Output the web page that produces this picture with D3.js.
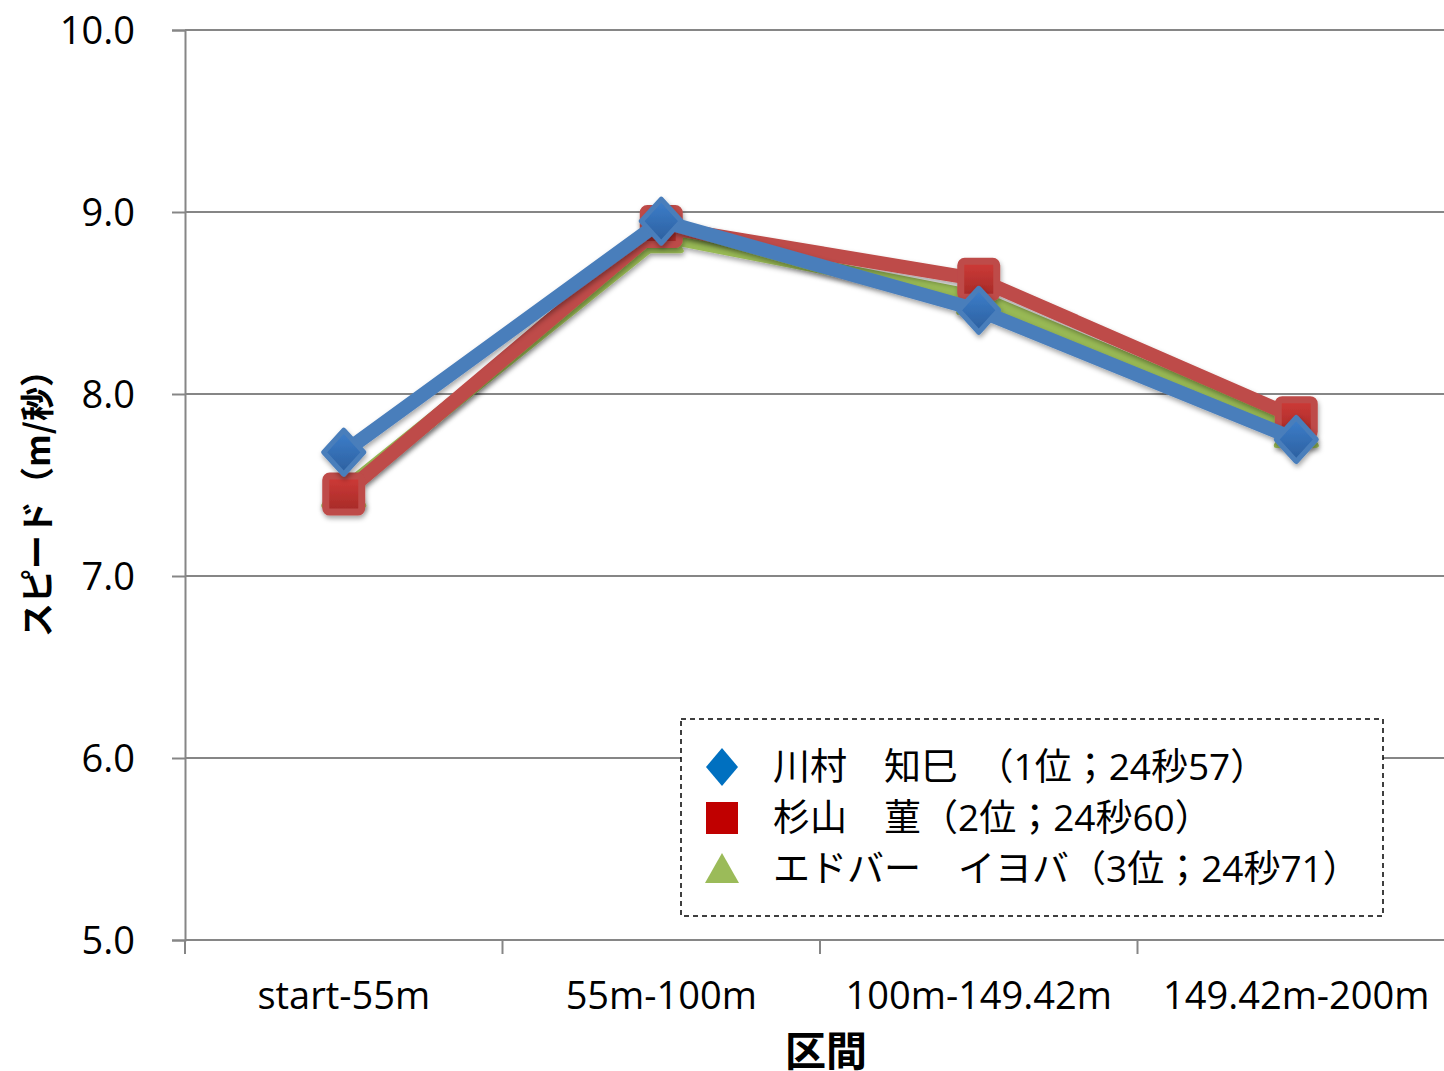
<!DOCTYPE html>
<html>
<head>
<meta charset="utf-8">
<script src="https://cdn.jsdelivr.net/npm/d3@7"></script>
<style>
  body { margin: 0; background: #fff; }
  svg { display: block; }
  text { font-family: "Open Sans", "Noto Sans CJK JP", sans-serif; fill: #000; }
  .jp { font-family: "Noto Sans CJK JP", sans-serif; }
</style>
</head>
<body>
<div id="chart"></div>
<script>
// data
var categories = ["start-55m", "55m-100m", "100m-149.42m", "149.42m-200m"];
var kawamura = [7.68, 8.95, 8.46, 7.75];
var sugiyama = [7.45, 8.92, 8.63, 7.87];
var edobar = [7.47, 8.87, 8.53, 7.80];
var seriesNames = ["川村　知巳　（1位；24秒57）", "杉山　菫（2位；24秒60）", "エドバー　イヨバ（3位；24秒71）"];
var yTicks = [5, 6, 7, 8, 9, 10];

var W = 1444, H = 1071;
var margin = { top: 30, left: 185, bottom: 131 };
var plotH = H - margin.top - margin.bottom;

var svg = d3.select("#chart").append("svg")
    .attr("width", W)
    .attr("height", H);

var defs = svg.append("defs");
var shadow = defs.append("filter").attr("id", "shadow")
    .attr("x", "-20%").attr("y", "-20%").attr("width", "140%").attr("height", "140%");
shadow.append("feDropShadow")
    .attr("dx", 1).attr("dy", 3).attr("stdDeviation", 2.5)
    .attr("flood-color", "#000").attr("flood-opacity", 0.35);

function grad(id, c1, c2) {
    var g = defs.append("linearGradient").attr("id", id)
        .attr("x1", 0).attr("y1", 0).attr("x2", 0).attr("y2", 1);
    g.append("stop").attr("offset", "0%").attr("stop-color", c1);
    g.append("stop").attr("offset", "100%").attr("stop-color", c2);
}
grad("gBlue", "#3d7fcc", "#2c5f9e");
grad("gRed", "#cf3b38", "#a52a27");
grad("gGreen", "#a8c868", "#7f9c3e");

// scales
var x = d3.scaleBand()
    .domain(categories)
    .range([margin.left, margin.left + 317.5 * categories.length]);
var y = d3.scaleLinear()
    .domain([5, 10])
    .range([margin.top + plotH, margin.top]);

// gridlines + y axis
var yAxis = d3.axisLeft(y)
    .tickValues(yTicks)
    .tickFormat(d3.format(".1f"))
    .tickSize(13)
    .tickPadding(37);
var gY = svg.append("g")
    .attr("transform", "translate(" + margin.left + ",0)")
    .call(yAxis);
gY.select(".domain").attr("stroke", "#868686").attr("stroke-width", 2);
gY.selectAll(".tick line").attr("stroke", "#868686").attr("stroke-width", 2);
gY.selectAll(".tick text").style("font-size", "38px").attr("dy", "0.36em");

svg.append("g").selectAll("line")
    .data(yTicks)
    .enter().append("line")
    .attr("x1", margin.left).attr("x2", W)
    .attr("y1", function (d) { return y(d); })
    .attr("y2", function (d) { return y(d); })
    .attr("stroke", "#868686")
    .attr("stroke-width", 2);

// x axis
var gX = svg.append("g")
    .attr("transform", "translate(0," + y(5) + ")");
gX.selectAll("line")
    .data(d3.range(categories.length + 1))
    .enter().append("line")
    .attr("x1", function (i) { return x.range()[0] + i * x.step(); })
    .attr("x2", function (i) { return x.range()[0] + i * x.step(); })
    .attr("y1", 0).attr("y2", 14)
    .attr("stroke", "#868686").attr("stroke-width", 2);
gX.selectAll("text")
    .data(categories)
    .enter().append("text")
    .attr("x", function (d) { return x(d) + x.bandwidth() / 2; })
    .attr("y", 69)
    .attr("text-anchor", "middle")
    .style("font-size", "38px")
    .text(function (d) { return d; });

// axis titles
svg.append("text")
    .attr("class", "jp")
    .attr("transform", "translate(50,495) rotate(-90)")
    .attr("text-anchor", "middle")
    .style("font-size", "34px")
    .style("font-weight", "bold")
    .text("スピード（m/秒）");

svg.append("text")
    .attr("class", "jp")
    .attr("x", 826).attr("y", 1066)
    .attr("text-anchor", "middle")
    .style("font-size", "41px")
    .style("font-weight", "bold")
    .text("区間");

// series
var line = d3.line()
    .x(function (d, i) { return x(categories[i]) + x.bandwidth() / 2; })
    .y(function (d) { return y(d); });

var series = [
    { values: edobar, line: "#98b954", marker: "triangle", fill: "url(#gGreen)" },
    { values: sugiyama, line: "#be4b48", marker: "square", fill: "url(#gRed)" },
    { values: kawamura, line: "#4a7ebb", marker: "diamond", fill: "url(#gBlue)" }
];

var markerPath = {
    diamond: "M0,-22L20,0L0,22L-20,0Z",
    triangle: "M0,-20L20,15L-20,15Z"
};

series.forEach(function (s) {
    var g = svg.append("g").attr("filter", "url(#shadow)");
    g.append("path")
        .datum(s.values)
        .attr("d", line)
        .attr("fill", "none")
        .attr("stroke", s.line)
        .attr("stroke-width", 14)
        .attr("stroke-linejoin", "round");
    var pts = g.selectAll(".pt")
        .data(s.values)
        .enter();
    if (s.marker === "square") {
        pts.append("rect")
            .attr("x", function (d, i) { return x(categories[i]) + x.bandwidth() / 2 - 18; })
            .attr("y", function (d) { return y(d) - 18; })
            .attr("width", 36).attr("height", 36)
            .attr("rx", 4)
            .attr("fill", s.fill)
            .attr("stroke", s.line)
            .attr("stroke-width", 7)
            .attr("stroke-linejoin", "round");
    } else {
        pts.append("path")
            .attr("transform", function (d, i) {
                return "translate(" + (x(categories[i]) + x.bandwidth() / 2) + "," + y(d) + ")";
            })
            .attr("d", markerPath[s.marker])
            .attr("fill", s.fill)
            .attr("stroke", s.line)
            .attr("stroke-width", 5)
            .attr("stroke-linejoin", "round");
    }
});

// legend
var legend = svg.append("g").attr("transform", "translate(681,719)");
legend.append("rect")
    .attr("width", 702).attr("height", 197)
    .attr("fill", "#fff")
    .attr("stroke", "#000")
    .attr("stroke-width", 1.5)
    .attr("stroke-dasharray", "5,4");

var legendColors = ["#0070c0", "#c00000", "#9bbb59"];
var legendShapes = [
    "M0,-19L16,0L0,19L-16,0Z",
    "M-16,-16L16,-16L16,16L-16,16Z",
    "M0,-16L17,14L-17,14Z"
];
var item = legend.selectAll(".item")
    .data(seriesNames)
    .enter().append("g")
    .attr("transform", function (d, i) { return "translate(0," + (48 + i * 51) + ")"; });
item.append("path")
    .attr("transform", "translate(41,0)")
    .attr("d", function (d, i) { return legendShapes[i]; })
    .attr("fill", function (d, i) { return legendColors[i]; });
item.append("text")
    .attr("x", 92)
    .attr("y", 0)
    .attr("dy", "0.36em")
    .style("font-size", "37px")
    .text(function (d) { return d; });
</script>
</body>
</html>
